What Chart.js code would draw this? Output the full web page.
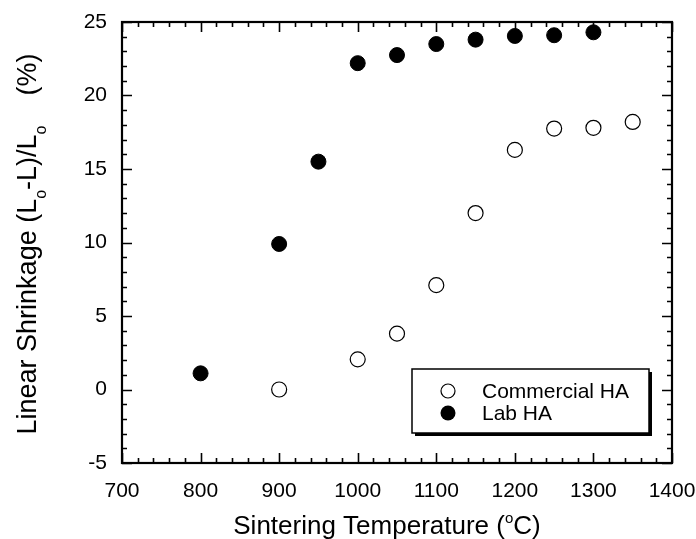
<!DOCTYPE html>
<html>
<head>
<meta charset="utf-8">
<script src="https://cdn.jsdelivr.net/npm/chart.js@4"></script>
<style>
  body { margin: 0; background: #fff; }
  #wrap { width: 696px; height: 539px; position: relative; }
</style>
</head>
<body>
<div id="wrap"><canvas id="chart"></canvas></div>
<script>
// data
const commercialTemps = [900, 1000, 1050, 1100, 1150, 1200, 1250, 1300, 1350]
const commercialShrink = [0.0, 2.05, 3.8, 7.1, 12.0, 16.3, 17.75, 17.8, 18.2]
const labTemps = [800, 900, 950, 1000, 1050, 1100, 1150, 1200, 1250, 1300]
const labShrink = [1.1, 9.9, 15.5, 22.2, 22.75, 23.5, 23.8, 24.05, 24.1, 24.3]
const xTicks = [700, 800, 900, 1000, 1100, 1200, 1300, 1400]
const yTicks = [-5, 0, 5, 10, 15, 20, 25]
const seriesNames = ['Commercial HA', 'Lab HA']

const FONT = '"Liberation Sans", Arial, sans-serif'

function toPoints(xs, ys){
    return xs.map((x, i) => ({ x: x, y: ys[i] }))
}

// draws text pieces with sub/superscripts, centred on (cx, y)
function drawRich(ctx, parts, cx, y, size){
    const small = Math.round(size * 0.58)
    let total = 0
    parts.forEach(p => {
        ctx.font = (p.sub || p.sup ? small : size) + 'px ' + FONT
        p.w = ctx.measureText(p.t).width
        total += p.w
    })
    let x = cx - total / 2
    parts.forEach(p => {
        ctx.font = (p.sub || p.sup ? small : size) + 'px ' + FONT
        let dy = 0
        if(p.sub) dy = size * 0.36
        if(p.sup) dy = -size * 0.42
        ctx.fillText(p.t, x, y + dy)
        x += p.w
    })
}

const framePlugin = {
    id: 'frame',
    afterDraw(chart){
        const ctx = chart.ctx
        const a = chart.chartArea
        const xs = chart.scales.x
        const ys = chart.scales.y
        ctx.save()
        ctx.strokeStyle = '#000'
        ctx.fillStyle = '#000'

        // inward ticks on all four sides
        ctx.lineWidth = 1.6
        ctx.beginPath()
        for(let v = 700; v <= 1400; v += 20){
            const px = Math.round(xs.getPixelForValue(v)) + 0.5
            const len = v % 100 == 0 ? 10 : 5
            ctx.moveTo(px, a.bottom); ctx.lineTo(px, a.bottom - len)
            ctx.moveTo(px, a.top); ctx.lineTo(px, a.top + len)
        }
        for(let v = -5; v <= 25; v += 1){
            const py = Math.round(ys.getPixelForValue(v)) + 0.5
            const len = v % 5 == 0 ? 10 : 5
            ctx.moveTo(a.left, py); ctx.lineTo(a.left + len, py)
            ctx.moveTo(a.right, py); ctx.lineTo(a.right - len, py)
        }
        ctx.stroke()

        ctx.lineWidth = 2.2
        ctx.strokeRect(a.left, a.top, a.right - a.left, a.bottom - a.top)

        // axis titles
        ctx.textAlign = 'left'
        ctx.textBaseline = 'alphabetic'
        drawRich(ctx, [
            { t: 'Sintering Temperature (' },
            { t: 'o', sup: true },
            { t: 'C)' }
        ], 387, 534, 26)

        ctx.save()
        ctx.translate(36, 244)
        ctx.rotate(-Math.PI / 2)
        drawRich(ctx, [
            { t: 'Linear Shrinkage (L' },
            { t: 'o', sub: true },
            { t: '-L)/L' },
            { t: 'o', sub: true },
            { t: '    (%)' }
        ], 0, 0, 27)
        ctx.restore()

        // legend box with drop shadow
        const lx = 412, ly = 369, lw = 237, lh = 64
        ctx.fillRect(lx + 3, ly + 3, lw, lh)
        ctx.fillStyle = '#fff'
        ctx.fillRect(lx, ly, lw, lh)
        ctx.lineWidth = 1.5
        ctx.strokeRect(lx, ly, lw, lh)

        ctx.beginPath()
        ctx.arc(448, 391, 7, 0, Math.PI * 2)
        ctx.fillStyle = '#fff'
        ctx.fill()
        ctx.lineWidth = 1.2
        ctx.stroke()
        ctx.beginPath()
        ctx.arc(448, 413, 7.5, 0, Math.PI * 2)
        ctx.fillStyle = '#000'
        ctx.fill()

        ctx.font = '21px ' + FONT
        ctx.textBaseline = 'middle'
        ctx.fillText(seriesNames[0], 482, 392)
        ctx.fillText(seriesNames[1], 482, 414)
        ctx.restore()
    }
}

const ctx = document.getElementById('chart').getContext('2d')

new Chart(ctx, {
    type: 'scatter',
    data: {
        datasets: [{
            label: seriesNames[0],
            data: toPoints(commercialTemps, commercialShrink),
            pointRadius: 7.5,
            pointBackgroundColor: '#fff',
            pointBorderColor: '#000',
            pointBorderWidth: 1.2
        }, {
            label: seriesNames[1],
            data: toPoints(labTemps, labShrink),
            pointRadius: 7.5,
            pointBackgroundColor: '#000',
            pointBorderColor: '#000',
            pointBorderWidth: 1
        }]
    },
    options: {
        responsive: true,
        maintainAspectRatio: false,
        animation: false,
        layout: { padding: { top: 22, right: 24, left: 0, bottom: 0 } },
        plugins: {
            legend: { display: false },
            tooltip: { enabled: false }
        },
        scales: {
            x: {
                type: 'linear',
                min: 700,
                max: 1400,
                afterBuildTicks: s => { s.ticks = xTicks.map(v => ({ value: v })) },
                afterFit: s => { s.height = 76; s.paddingLeft = 0; s.paddingRight = 0 },
                grid: { display: false },
                border: { display: false },
                ticks: {
                    color: '#000', padding: 8, maxRotation: 0,
                    font: { family: FONT, size: 21 },
                    callback: v => String(v)
                }
            },
            y: {
                min: -5,
                max: 25,
                afterBuildTicks: s => { s.ticks = yTicks.map(v => ({ value: v })) },
                afterFit: s => { s.width = 122; s.paddingTop = 0; s.paddingBottom = 0 },
                grid: { display: false },
                border: { display: false },
                ticks: { color: '#000', padding: 7, font: { family: FONT, size: 21 } }
            }
        }
    },
    plugins: [framePlugin]
})
</script>
</body>
</html>
